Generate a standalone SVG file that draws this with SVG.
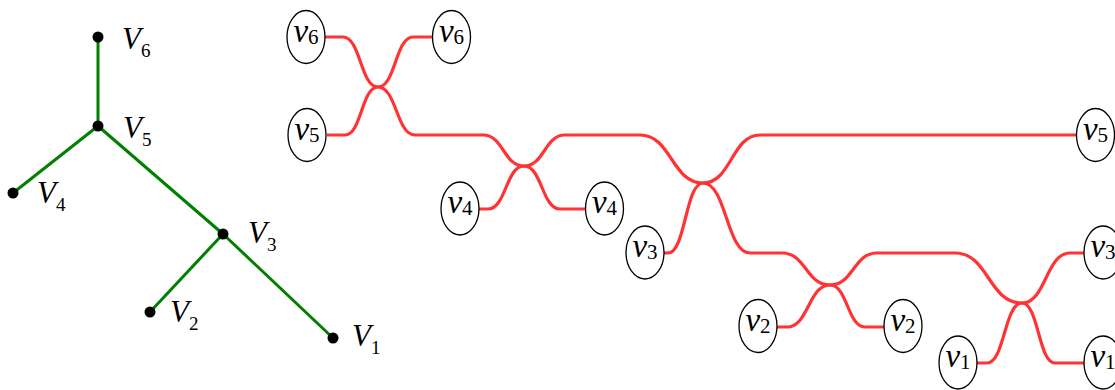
<svg xmlns="http://www.w3.org/2000/svg" width="1115" height="390" viewBox="0 0 1115 390">
<style>
.bg{fill:#ffffff}
.edge{stroke:#008000;stroke-width:3;fill:none;stroke-linecap:round}
.dot{fill:#000000}
.strand{stroke:#ff3333;stroke-width:3.2;fill:none}
.ell{fill:#ffffff;stroke:#000000;stroke-width:1.3}
.tl{font-family:"Liberation Serif",serif;font-size:31px;font-style:italic;fill:#000}
.sub{font-style:normal;font-size:19px}
.el{font-family:"Liberation Serif",serif;font-size:33px;font-style:italic;fill:#000;text-anchor:middle}
.esub{font-style:normal;font-size:21px}
</style>
<rect class="bg" x="0" y="0" width="1115" height="390"/>
<g id="connectors">
<line class="edge" x1="98" y1="37" x2="98" y2="126"/>
<line class="edge" x1="98" y1="126" x2="13" y2="193"/>
<line class="edge" x1="98" y1="126" x2="223" y2="234"/>
<line class="edge" x1="223" y1="234" x2="150" y2="312"/>
<line class="edge" x1="223" y1="234" x2="333" y2="338"/>
<path class="strand" d="M325,37 H343 C360.5,37 360.5,87 378,87 C396.5,87 396.5,135 415,135 H483 C503.5,135 503.5,166 524,166 C542,166 542,209 560,209 H586"/>
<path class="strand" d="M327,135 H345 C361.5,135 361.5,87 378,87 C395.5,87 395.5,37 413,37 H433"/>
<path class="strand" d="M478,209 H488 C506,209 506,166 524,166 C544.5,166 544.5,135 565,135 H640 C671.5,135 671.5,183 703,183 C726.5,183 726.5,253 750,253 H782 C806,253 806,285 830,285 C847.5,285 847.5,327 865,327 H884"/>
<path class="strand" d="M663,253 H668 C685.5,253 685.5,183 703,183 C731.5,183 731.5,135 760,135 H1077"/>
<path class="strand" d="M777,327 H787 C808.5,327 808.5,285 830,285 C853.5,285 853.5,253 877,253 H955 C988.5,253 988.5,303 1022,303 C1038.5,303 1038.5,363 1055,363 H1084"/>
<path class="strand" d="M977,363 H987 C1004.5,363 1004.5,303 1022,303 C1046,303 1046,253 1070,253 H1084"/>
</g>
<g id="V6"><circle class="dot" cx="98" cy="37" r="5.5"/><text class="tl" x="122" y="49">V<tspan class="sub" dy="8">6</tspan></text></g>
<g id="V5"><circle class="dot" cx="98" cy="126" r="5.5"/><text class="tl" x="123" y="138">V<tspan class="sub" dy="8">5</tspan></text></g>
<g id="V4"><circle class="dot" cx="13" cy="193" r="5.5"/><text class="tl" x="37" y="203">V<tspan class="sub" dy="8">4</tspan></text></g>
<g id="V3"><circle class="dot" cx="223" cy="234" r="5.5"/><text class="tl" x="248" y="243">V<tspan class="sub" dy="8">3</tspan></text></g>
<g id="V2"><circle class="dot" cx="150" cy="312" r="5.5"/><text class="tl" x="170" y="322">V<tspan class="sub" dy="8">2</tspan></text></g>
<g id="V1"><circle class="dot" cx="333" cy="338" r="5.5"/><text class="tl" x="352" y="346">V<tspan class="sub" dy="8">1</tspan></text></g>
<g id="v6L"><ellipse class="ell" cx="306" cy="37" rx="19" ry="26.5"/><text class="el" x="306" y="41.5">v<tspan class="esub" dy="2">6</tspan></text></g>
<g id="v6R"><ellipse class="ell" cx="451.5" cy="37" rx="19" ry="26.5"/><text class="el" x="451.5" y="41.5">v<tspan class="esub" dy="2">6</tspan></text></g>
<g id="v5L"><ellipse class="ell" cx="307" cy="135" rx="19" ry="26.5"/><text class="el" x="307" y="139.5">v<tspan class="esub" dy="2">5</tspan></text></g>
<g id="v5R"><ellipse class="ell" cx="1095.5" cy="135" rx="19" ry="26.5"/><text class="el" x="1095.5" y="139.5">v<tspan class="esub" dy="2">5</tspan></text></g>
<g id="v4L"><ellipse class="ell" cx="460" cy="208.5" rx="19" ry="26.5"/><text class="el" x="460" y="213">v<tspan class="esub" dy="2">4</tspan></text></g>
<g id="v4R"><ellipse class="ell" cx="604.5" cy="208.5" rx="19" ry="26.5"/><text class="el" x="604.5" y="213">v<tspan class="esub" dy="2">4</tspan></text></g>
<g id="v3L"><ellipse class="ell" cx="645" cy="252.5" rx="19" ry="26.5"/><text class="el" x="645" y="257">v<tspan class="esub" dy="2">3</tspan></text></g>
<g id="v3R"><ellipse class="ell" cx="1103" cy="252.5" rx="19" ry="26.5"/><text class="el" x="1103" y="257">v<tspan class="esub" dy="2">3</tspan></text></g>
<g id="v2L"><ellipse class="ell" cx="758" cy="326" rx="19" ry="26.5"/><text class="el" x="758" y="330.5">v<tspan class="esub" dy="2">2</tspan></text></g>
<g id="v2R"><ellipse class="ell" cx="903" cy="326" rx="19" ry="26.5"/><text class="el" x="903" y="330.5">v<tspan class="esub" dy="2">2</tspan></text></g>
<g id="v1L"><ellipse class="ell" cx="958" cy="362.5" rx="19" ry="26.5"/><text class="el" x="958" y="367">v<tspan class="esub" dy="2">1</tspan></text></g>
<g id="v1R"><ellipse class="ell" cx="1103" cy="362.5" rx="19" ry="26.5"/><text class="el" x="1103" y="367">v<tspan class="esub" dy="2">1</tspan></text></g>
</svg>
